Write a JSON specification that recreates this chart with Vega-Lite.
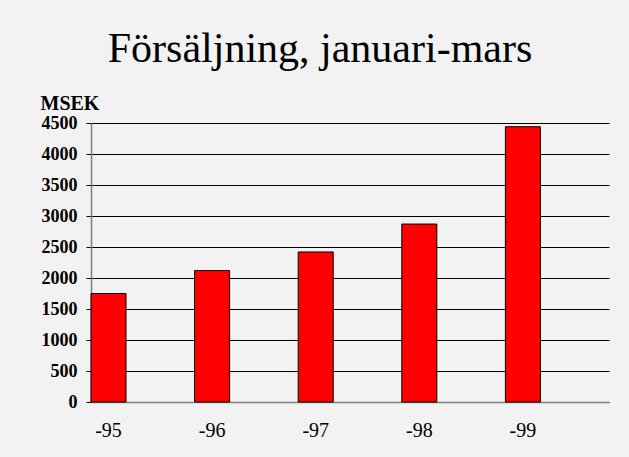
{
  "$schema": "https://vega.github.io/schema/vega-lite/v6.json",
  "width": 518,
  "height": 279,
  "autosize": "none",
  "padding": {"left": 91, "top": 123, "right": 20, "bottom": 55},
  "background": "#f2f2f2",
  "title": {
    "text": "Försäljning, januari-mars",
    "font": "Liberation Serif",
    "fontSize": 42,
    "fontWeight": "normal",
    "color": "#000000",
    "anchor": "middle",
    "dx": -30,
    "baseline": "alphabetic",
    "offset": 20,
    "dy": 31
  },
  "data": {
    "values": [
      {"year": "-95", "msek": 1750},
      {"year": "-96", "msek": 2120},
      {"year": "-97", "msek": 2420},
      {"year": "-98", "msek": 2870},
      {"year": "-99", "msek": 4440}
    ]
  },
  "mark": {"type": "bar", "color": "#ff0000", "stroke": "#000000", "strokeWidth": 1},
  "encoding": {
    "x": {
      "field": "year",
      "type": "ordinal",
      "sort": null,
      "scale": {"paddingInner": 0.662, "paddingOuter": 0.331, "align": 0},
      "axis": {
        "title": null,
        "labelAngle": 0,
        "labelFont": "Liberation Serif",
        "labelFontSize": 20,
        "labelColor": "#000000",
        "labelBaseline": "alphabetic",
        "labelPadding": 34,
        "labelDx": -3,
        "ticks": false,
        "domain": true,
        "domainColor": "#808080",
        "domainWidth": 1.5,
        "grid": false
      }
    },
    "y": {
      "field": "msek",
      "type": "quantitative",
      "scale": {"domain": [0, 4500], "nice": false},
      "axis": {
        "values": [0, 500, 1000, 1500, 2000, 2500, 3000, 3500, 4000, 4500],
        "format": "d",
        "grid": true,
        "gridColor": "#000000",
        "gridOpacity": 1,
        "gridWidth": 1,
        "domain": true,
        "domainColor": "#808080",
        "domainWidth": 1.5,
        "ticks": true,
        "tickColor": "#000000",
        "tickSize": 5,
        "labelFont": "Liberation Serif",
        "labelFontSize": 18,
        "labelFontWeight": "bold",
        "labelColor": "#000000",
        "labelPadding": 9,
        "title": "MSEK",
        "titleAngle": 0,
        "titleFont": "Liberation Serif",
        "titleFontSize": 20,
        "titleFontWeight": "bold",
        "titleColor": "#000000",
        "titleAlign": "left",
        "titleBaseline": "alphabetic",
        "titleX": -51,
        "titleY": -14
      }
    }
  },
  "config": {"view": {"stroke": null}}
}
